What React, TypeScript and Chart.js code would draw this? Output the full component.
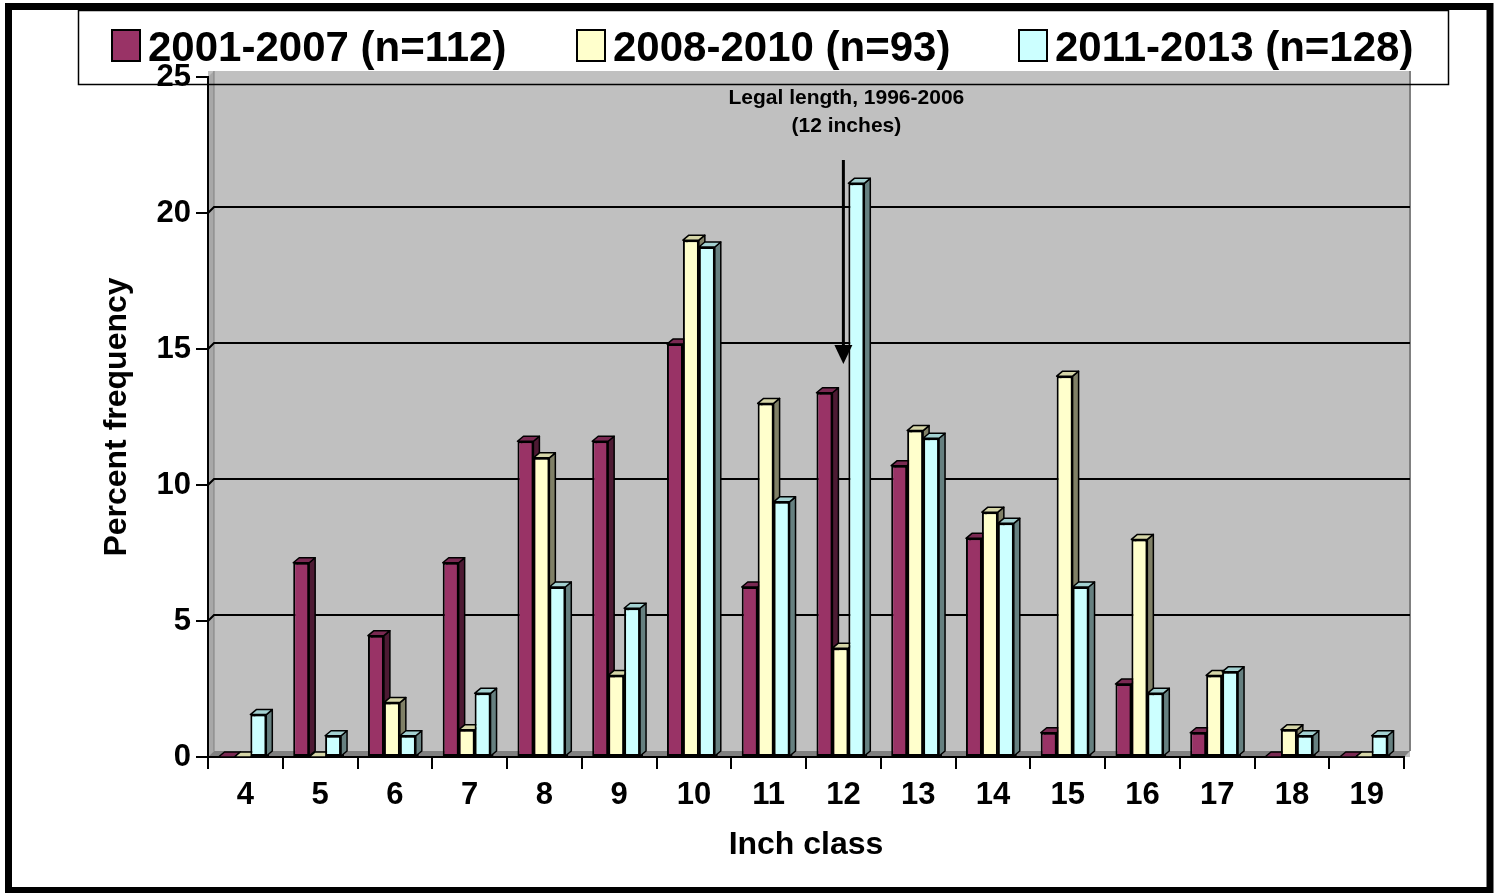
import React, { useEffect, useRef } from 'react';
import { Chart, registerables } from 'chart.js';

Chart.register(...registerables);

// ---------- data ----------
const categories = ['4', '5', '6', '7', '8', '9', '10', '11', '12', '13', '14', '15', '16', '17', '18', '19'];
const series2001to2007 = [0, 7.14, 4.46, 7.14, 11.61, 11.61, 15.18, 6.25, 13.39, 10.71, 8.04, 0.89, 2.68, 0.89, 0, 0];
const series2008to2010 = [0, 0, 2, 1, 11, 3, 19, 13, 4, 12, 9, 14, 8, 3, 1, 0];
const series2011to2013 = [1.56, 0.78, 0.78, 2.34, 6.25, 5.47, 18.75, 9.38, 21.09, 11.72, 8.59, 6.25, 2.34, 3.13, 0.78, 0.78];
const seriesLabels = ['2001-2007 (n=112)', '2008-2010 (n=93)', '2011-2013 (n=128)'];
const yMin = 0;
const yMax = 25;
const yStep = 5;
const gridValues = [5, 10, 15, 20];
const xTitle = 'Inch class';
const yTitle = 'Percent frequency';
const annotationLines = ['Legal length, 1996-2006', '(12 inches)'];
const annotationCategory = '12';

// ---------- styles ----------
const FONT = "'Liberation Sans', Arial, Helvetica, sans-serif";
const frontColors = ['#993366', '#FFFFCC', '#CCFFFF'];
const topColors = ['#7A2952', '#D6D6A8', '#A3D1D1'];
const sideColors = ['#4D1A33', '#808066', '#668080'];
const DX = 6;
const DY = 5;
const WALL = 6;
const BAR_SHIFT = -3;

const decorPlugin = {
  id: 'decor',
  beforeDraw(chart: any) {
    const { ctx, chartArea: a, scales } = chart;
    const y = scales.y;
    ctx.save();
    // back wall
    ctx.fillStyle = '#C0C0C0';
    ctx.fillRect(a.left, a.top - WALL, a.right + WALL - a.left, a.bottom - (a.top - WALL));
    // left side wall
    ctx.fillStyle = '#A8A8A8';
    ctx.beginPath();
    ctx.moveTo(a.left, a.top);
    ctx.lineTo(a.left + WALL, a.top - WALL);
    ctx.lineTo(a.left + WALL, a.bottom - WALL);
    ctx.lineTo(a.left, a.bottom);
    ctx.closePath();
    ctx.fill();
    ctx.strokeStyle = '#808080';
    ctx.lineWidth = 1;
    ctx.beginPath();
    ctx.moveTo(a.left + WALL, a.top - WALL);
    ctx.lineTo(a.left + WALL, a.bottom - WALL);
    ctx.stroke();
    // floor
    ctx.fillStyle = '#808080';
    ctx.beginPath();
    ctx.moveTo(a.left, a.bottom);
    ctx.lineTo(a.left + WALL, a.bottom - WALL);
    ctx.lineTo(a.right + WALL, a.bottom - WALL);
    ctx.lineTo(a.right, a.bottom);
    ctx.closePath();
    ctx.fill();
    // right edge of back wall
    ctx.strokeStyle = '#808080';
    ctx.lineWidth = 2;
    ctx.beginPath();
    ctx.moveTo(a.right + WALL, a.top - WALL);
    ctx.lineTo(a.right + WALL, a.bottom - WALL);
    ctx.stroke();
    // gridlines on back wall
    ctx.strokeStyle = '#000';
    ctx.lineWidth = 2;
    for (const v of gridValues) {
      const py = y.getPixelForValue(v);
      ctx.beginPath();
      ctx.moveTo(a.left, py);
      ctx.lineTo(a.left + WALL, py - WALL);
      ctx.lineTo(a.right + WALL, py - WALL);
      ctx.stroke();
    }
    ctx.restore();
  },
  afterDatasetsDraw(chart: any) {
    const { ctx } = chart;
    ctx.save();
    ctx.translate(BAR_SHIFT, 0);
    // draw series in order: first series at the back, later series in front
    for (let di = 0; di < chart.data.datasets.length; di++) {
      const meta = chart.getDatasetMeta(di);
      for (const el of meta.data) {
        // front face via the library's own element
        el.draw(ctx);
        const p = el.getProps(['x', 'y', 'base', 'width'], true);
        const x0 = p.x - p.width / 2;
        const x1 = p.x + p.width / 2;
        const yt = Math.min(p.y, p.base);
        const yb = Math.max(p.y, p.base);
        ctx.save();
        ctx.strokeStyle = '#000';
        ctx.lineWidth = 1.5;
        ctx.lineJoin = 'round';
        if (yb - yt > 0.5) {
          ctx.fillStyle = sideColors[di];
          ctx.beginPath();
          ctx.moveTo(x1, yt);
          ctx.lineTo(x1 + DX, yt - DY);
          ctx.lineTo(x1 + DX, yb - DY);
          ctx.lineTo(x1, yb);
          ctx.closePath();
          ctx.fill();
          ctx.stroke();
        }
        ctx.fillStyle = topColors[di];
        ctx.beginPath();
        ctx.moveTo(x0, yt);
        ctx.lineTo(x0 + DX, yt - DY);
        ctx.lineTo(x1 + DX, yt - DY);
        ctx.lineTo(x1, yt);
        ctx.closePath();
        ctx.fill();
        ctx.stroke();
        ctx.restore();
      }
    }
    ctx.restore();
  },
  afterDraw(chart: any) {
    const { ctx, chartArea: a, scales } = chart;
    const x = scales.x;
    ctx.save();
    // annotation
    const idx = categories.indexOf(annotationCategory);
    const ax = x.getPixelForValue(idx);
    ctx.fillStyle = '#000';
    ctx.font = `bold 21px ${FONT}`;
    ctx.textAlign = 'center';
    ctx.textBaseline = 'middle';
    ctx.fillText(annotationLines[0], ax + 3, a.top + 21);
    ctx.fillText(annotationLines[1], ax + 3, a.top + 49);
    ctx.strokeStyle = '#000';
    ctx.lineWidth = 3;
    ctx.beginPath();
    ctx.moveTo(ax, a.top + 83);
    ctx.lineTo(ax, a.top + 270);
    ctx.stroke();
    ctx.beginPath();
    ctx.moveTo(ax - 9, a.top + 268);
    ctx.lineTo(ax + 9, a.top + 268);
    ctx.lineTo(ax, a.top + 287);
    ctx.closePath();
    ctx.fill();

    // legend box
    ctx.lineWidth = 1.5;
    ctx.strokeStyle = '#000';
    ctx.strokeRect(78.5, 10.5, 1370, 74);
    const itemX = [112, 577, 1019];
    ctx.font = `bold 42px ${FONT}`;
    ctx.textAlign = 'left';
    ctx.textBaseline = 'alphabetic';
    for (let i = 0; i < seriesLabels.length; i++) {
      ctx.fillStyle = frontColors[i];
      ctx.fillRect(itemX[i], 30, 28, 31);
      ctx.lineWidth = 2;
      ctx.strokeRect(itemX[i], 30, 28, 31);
      ctx.fillStyle = '#000';
      ctx.fillText(seriesLabels[i], itemX[i] + 36, 61);
    }

    // outer frame
    ctx.lineWidth = 7;
    ctx.strokeStyle = '#000';
    ctx.strokeRect(8.5, 6.5, 1481.5, 884);
    ctx.restore();
  },
};

export default function App() {
  const ref = useRef<HTMLCanvasElement>(null);

  useEffect(() => {
    document.body.style.margin = '0';
    const canvas = ref.current;
    if (!canvas) return;
    const tickFont = { family: FONT, size: 31, weight: 'bold' as const };
    const titleFont = { family: FONT, size: 32, weight: 'bold' as const };
    const seriesData = [series2001to2007, series2008to2010, series2011to2013];
    const chart = new Chart(canvas, {
      type: 'bar',
      data: {
        labels: categories,
        datasets: seriesData.map((d, i) => ({
          label: seriesLabels[i],
          data: d,
          backgroundColor: frontColors[i],
          borderColor: '#000',
          borderWidth: 2,
          borderSkipped: false,
          categoryPercentage: 0.64,
          barPercentage: 1,
        })),
      },
      options: {
        responsive: false,
        animation: false,
        devicePixelRatio: 1,
        events: [],
        layout: { padding: { top: 77, right: 97, bottom: 0, left: 0 } },
        plugins: {
          legend: { display: false },
          tooltip: { enabled: false },
          title: { display: false },
        },
        scales: {
          x: {
            offset: true,
            grid: {
              offset: true,
              drawOnChartArea: false,
              drawTicks: true,
              tickLength: 12,
              tickColor: '#000',
              tickWidth: 2,
              color: '#000',
              lineWidth: 2,
            },
            border: { display: true, color: '#000', width: 2 },
            ticks: { color: '#000', font: tickFont, padding: 8, maxRotation: 0, autoSkip: false },
            title: { display: true, text: xTitle, color: '#000', font: titleFont, padding: { top: 0, bottom: 29 } },
            afterFit(s: any) {
              s.height = 136;
            },
          },
          y: {
            min: yMin,
            max: yMax,
            ticks: { stepSize: yStep, color: '#000', font: tickFont, padding: 5 },
            grid: {
              drawOnChartArea: false,
              drawTicks: true,
              tickLength: 12,
              tickColor: '#000',
              tickWidth: 2,
              color: '#000',
              lineWidth: 2,
            },
            border: { display: true, color: '#000', width: 2 },
            title: { display: true, text: yTitle, color: '#000', font: titleFont, padding: { top: 98, bottom: 0 } },
            afterFit(s: any) {
              s.width = 208;
            },
          },
        },
      },
      plugins: [decorPlugin],
    } as any);
    return () => chart.destroy();
  }, []);

  return (
    <div style={{ width: 1501, height: 893, position: 'relative', background: '#fff' }}>
      <canvas ref={ref} width={1501} height={893} style={{ display: 'block', width: 1501, height: 893 }} />
    </div>
  );
}
